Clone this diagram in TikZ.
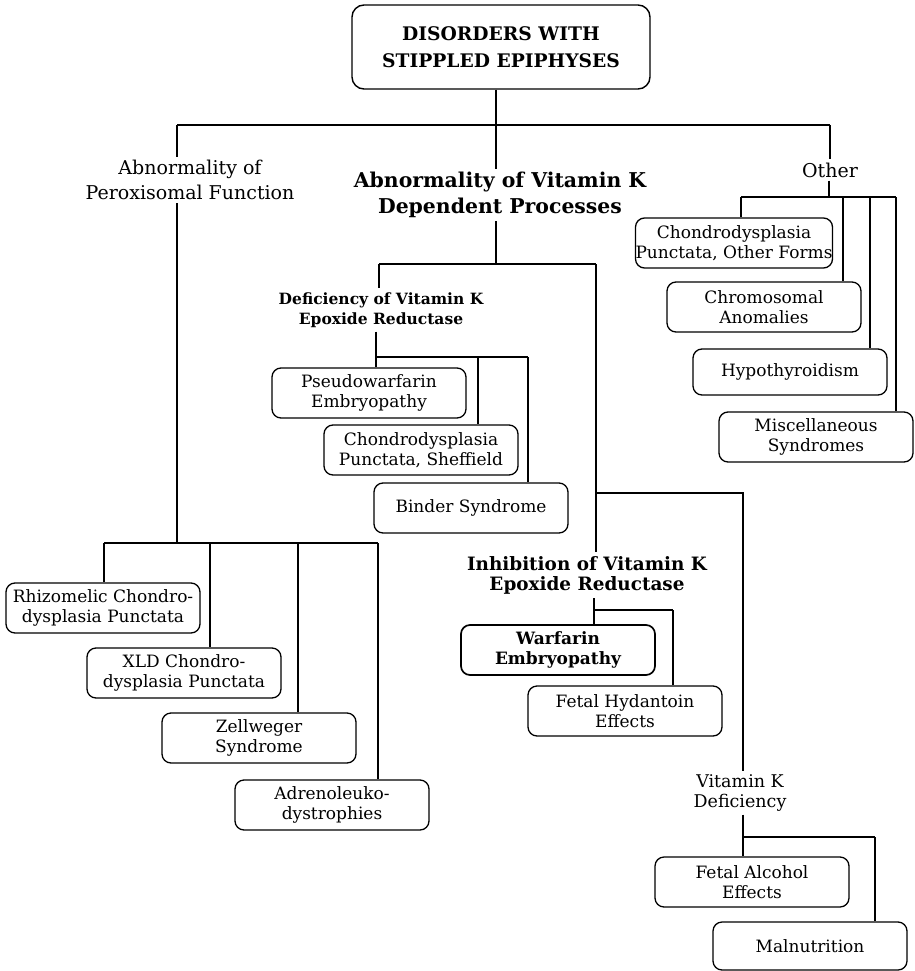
\documentclass[tikz,border=0pt]{standalone}
\usepackage{fontspec}
\setmainfont{DejaVu Serif}
\begin{document}
\begin{tikzpicture}[x=1pt,y=-1pt,
    link/.style={line width=1.9pt},
    leaf/.style={draw,line width=1.3pt,rounded corners=9pt,minimum width=194pt,minimum height=50pt,
                 inner sep=0pt,align=center,font=\fontsize{17}{20}\selectfont},
    group/.style={align=center,inner sep=3pt,font=\fontsize{19}{25}\selectfont},
    sub/.style={align=center,inner sep=4pt,font=\bfseries\fontsize{15.5}{20}\selectfont}]
            \useasboundingbox (0,0) rectangle (914,971);
            % top level
            \node[draw,line width=1.4pt,rounded corners=12pt,minimum width=298pt,minimum height=84pt,
                  align=center,font=\bfseries\fontsize{18.7}{27}\selectfont] (root) at (501,47)
                  {DISORDERS WITH\\STIPPLED EPIPHYSES};
            \node[group] (perox) at (190,180) {Abnormality of\\Peroxisomal Function};
            \node[group,font=\bfseries\fontsize{20.4}{26}\selectfont] (vitk) at (500,195)
                  {Abnormality of Vitamin K\\Dependent Processes};
            \node[group] (other) at (830,170) {Other};
            % vitamin K branch
            \node[sub] (defic) at (381,310) {Deficiency of Vitamin K\\Epoxide Reductase};
            \node[sub,font=\bfseries\fontsize{18.4}{20}\selectfont] (inhib) at (587,575)
                  {Inhibition of Vitamin K\\Epoxide Reductase};
            \node[group,font=\fontsize{17.5}{20}\selectfont] (vkdef) at (740,793) {Vitamin K\\Deficiency};
            \node[leaf] (pseudo) at (369,393) {Pseudowarfarin\\Embryopathy};
            \node[leaf] (sheff) at (421,450) {Chondrodysplasia\\Punctata, Sheffield};
            \node[leaf] (binder) at (471,508) {Binder Syndrome};
            \node[leaf,line width=1.7pt,font=\bfseries\fontsize{17}{20}\selectfont] (warf) at (558,650)
                  {Warfarin\\Embryopathy};
            \node[leaf] (hydant) at (625,711) {Fetal Hydantoin\\Effects};
            \node[leaf] (alcohol) at (752,882) {Fetal Alcohol\\Effects};
            \node[leaf,minimum height=48pt] (malnut) at (810,946) {Malnutrition};
            % other
            \node[leaf] (cpother) at (734,243) {Chondrodysplasia\\Punctata, Other Forms};
            \node[leaf] (chromo) at (764,307) {Chromosomal\\Anomalies};
            \node[leaf,minimum height=46pt] (hypo) at (790,372) {Hypothyroidism};
            \node[leaf] (misc) at (816,437) {Miscellaneous\\Syndromes};
            % peroxisomal
            \node[leaf] (rhizo) at (103,608) {Rhizomelic Chondro-\\dysplasia Punctata};
            \node[leaf] (xld) at (184,673) {XLD Chondro-\\dysplasia Punctata};
            \node[leaf] (zell) at (259,738) {Zellweger\\Syndrome};
            \node[leaf] (adreno) at (332,805) {Adrenoleuko-\\dystrophies};
            % junctions
            \coordinate (b0) at (496,125);
            \coordinate (bl) at (177,125);
            \coordinate (br) at (830,125);
            \coordinate (pl) at (177,543);
            \coordinate (p1) at (104,543);
            \coordinate (p2) at (210,543);
            \coordinate (p3) at (298,543);
            \coordinate (p4) at (378,543);
            \coordinate (m0) at (496,264);
            \coordinate (ml) at (379,264);
            \coordinate (mr) at (596,264);
            \coordinate (k0) at (596,493);
            \coordinate (kr) at (743,493);
            \coordinate (e1) at (376,357);
            \coordinate (e2) at (478,357);
            \coordinate (e3) at (528,357);
            \coordinate (o0) at (829,197);
            \coordinate (o1) at (741,197);
            \coordinate (o2) at (843,197);
            \coordinate (o3) at (870,197);
            \coordinate (o4) at (896,197);
            \coordinate (i1) at (594,610);
            \coordinate (i2) at (673,610);
            \coordinate (v1) at (743,837);
            \coordinate (v2) at (875,837);
            % connectors
            \draw[link] (b0 |- root.south) -- (b0);
            \draw[link] (bl) -- (br);
            \draw[link] (bl) -- (bl |- perox.north);
            \draw[link] (b0) -- (b0 |- vitk.north);
            \draw[link] (br) -- (br |- other.north);
            \draw[link] (pl |- perox.south) -- (pl);
            \draw[link] (p1) -- (p4);
            \draw[link] (p1) -- (p1 |- rhizo.north);
            \draw[link] (p2) -- (p2 |- xld.north);
            \draw[link] (p3) -- (p3 |- zell.north);
            \draw[link] (p4) -- (p4 |- adreno.north);
            \draw[link] (m0 |- vitk.south) -- (m0);
            \draw[link] (ml) -- (mr);
            \draw[link] (ml) -- (ml |- defic.north);
            \draw[link] (mr) -- (mr |- inhib.north);
            \draw[link] (k0) -- (kr) -- (kr |- vkdef.north);
            \draw[link] (e1 |- defic.south) -- (e1);
            \draw[link] (e1) -- (e3);
            \draw[link] (e1) -- (e1 |- pseudo.north);
            \draw[link] (e2) -- (e2 |- sheff.north);
            \draw[link] (e3) -- (e3 |- binder.north);
            \draw[link] (o0 |- other.south) -- (o0);
            \draw[link] (o1) -- (o4);
            \draw[link] (o1) -- (o1 |- cpother.north);
            \draw[link] (o2) -- (o2 |- chromo.north);
            \draw[link] (o3) -- (o3 |- hypo.north);
            \draw[link] (o4) -- (o4 |- misc.north);
            \draw[link] (i1 |- inhib.south) -- (i1) -- (i2);
            \draw[link] (i1) -- (i1 |- warf.north);
            \draw[link] (i2) -- (i2 |- hydant.north);
            \draw[link] (v1 |- vkdef.south) -- (v1) -- (v2);
            \draw[link] (v1) -- (v1 |- alcohol.north);
            \draw[link] (v2) -- (v2 |- malnut.north);
\end{tikzpicture}
\end{document}
